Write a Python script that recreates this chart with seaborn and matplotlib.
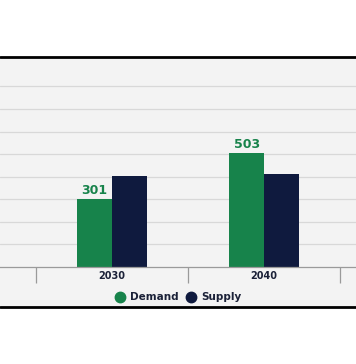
import numpy as np
import pandas as pd
import seaborn as sns
import matplotlib.pyplot as plt
from matplotlib.lines import Line2D
from matplotlib.patches import Rectangle

# data
years = ['2030', '2040']
demand = [301, 503]
supply = [405, 412]
series = ['Demand', 'Supply']
colors = {'Demand': '#17834b', 'Supply': '#0f1a3e'}

df = pd.DataFrame({
    'year': years * 2,
    'series': ['Demand'] * len(years) + ['Supply'] * len(years),
    'value': demand + supply,
})

sns.set_theme(style='white')
plt.rcParams['font.family'] = ['DejaVu Sans']

W, H = 356, 364
fig = plt.figure(figsize=(W / 100, H / 100), dpi=100, facecolor='white')

# light panel between the two black rules
fig.patches.append(Rectangle((0, 1 - 307 / H), 1, (307 - 57) / H,
                             transform=fig.transFigure, facecolor='#f3f3f3',
                             edgecolor='none', zorder=-5))
for yy in (57, 307):
    fig.add_artist(Line2D([0, 1], [1 - yy / H, 1 - yy / H], transform=fig.transFigure,
                          color='black', lw=2.0, zorder=5))

ax = fig.add_axes([0, 1 - 267 / H, 1, (267 - 58.5) / H])
ax.set_facecolor('none')

sns.barplot(data=df, x='year', y='value', hue='series', order=years,
            hue_order=series, palette=colors, width=0.455, gap=0,
            saturation=1, legend=False, linewidth=0, ax=ax)

ax.set_ylim(0, 924)
ax.set_xlim(-0.737, 1.605)
ax.set_yticks(np.arange(100, 900, 100))
ax.yaxis.grid(True, color='#d8d8d8', lw=0.9)
ax.set_axisbelow(True)
ax.tick_params(axis='y', left=False, labelleft=False)
ax.set_xlabel('')
ax.set_ylabel('')

# divider ticks between categories, labels centred
ax.set_xticks([-0.5, 0.5, 1.5])
ax.set_xticklabels([])
ax.tick_params(axis='x', which='major', bottom=True, length=11.5, width=0.9,
               color='#9a9a9a', direction='out')
ax.set_xticks([0, 1], minor=True)
ax.set_xticklabels(years, minor=True, fontsize=7, fontweight='bold', color='#1b2138')
ax.tick_params(axis='x', which='minor', bottom=True, length=0, pad=3)

for s in ['top', 'left', 'right']:
    ax.spines[s].set_visible(False)
ax.spines['bottom'].set_color('#9a9a9a')
ax.spines['bottom'].set_linewidth(0.9)

ax.bar_label(ax.containers[0], fmt='%d', padding=1.5, fontsize=9,
             fontweight='bold', color=colors['Demand'])

handles = [Line2D([], [], marker='o', ls='', markersize=7.5,
                  markerfacecolor=colors[s], markeredgecolor=colors[s]) for s in series]
leg = fig.legend(handles, series, loc='center', bbox_to_anchor=(0.5, 1 - 297.5 / H),
                 ncol=2, frameon=False, handletextpad=0.5, columnspacing=0.6,
                 handlelength=1.0, prop={'size': 7.5, 'weight': 'bold'})
for t in leg.get_texts():
    t.set_color('#1b2138')

fig.savefig('out.png', dpi=100, facecolor='white')
